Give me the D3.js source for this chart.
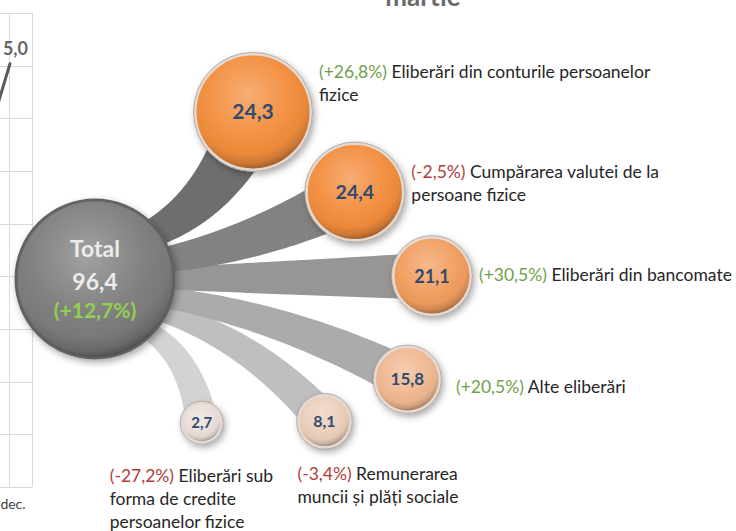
<!DOCTYPE html>
<html>
<head>
<meta charset="utf-8">
<script src="https://cdn.jsdelivr.net/npm/d3@7"></script>
<style>
  body { margin: 0; background: #fff; }
  svg { display: block; font-family: Lato, "Noto Sans", sans-serif; }
</style>
</head>
<body>
<div id="chart"></div>
<script>
// structure of cash outflows (bln lei) and change vs previous year, %
const labelLines = [
  ["Eliberări din conturile persoanelor", "fizice"],
  ["Cumpărarea valutei de la", "persoane fizice"],
  ["Eliberări din bancomate"],
  ["Alte eliberări"],
  ["Remunerarea", "muncii și plăți sociale"],
  ["Eliberări sub", "forma de credite", "persoanelor fizice"]
];
const categories = labelLines.map(l => l.join(" "));
const values = [24.3, 24.4, 21.1, 15.8, 8.1, 2.7];
const changes = [26.8, -2.5, 30.5, 20.5, -3.4, -27.2];
const totalValue = 96.4;
const totalChange = 12.7;

// cut-off piece of the neighbouring chart (left edge)
const prevMonths = ["nov.", "dec."];
const prevValues = [3.1, 5.0];

const width = 736, height = 531;
const fmt = v => d3.format(".1f")(v).replace(".", ",").replace("−", "-");
const fmtPct = v => "(" + (v > 0 ? "+" : "") + fmt(v) + "%)";

let svg = d3.select("#chart")
  .append("svg")
  .attr("width", width)
  .attr("height", height);

let defs = svg.append("defs");

let shadow = defs.append("filter").attr("id", "shadow")
  .attr("x", "-30%").attr("y", "-30%").attr("width", "170%").attr("height", "170%");
shadow.append("feDropShadow")
  .attr("dx", 2).attr("dy", 3).attr("stdDeviation", 3.5)
  .attr("flood-color", "#000").attr("flood-opacity", 0.35);

let gloss = defs.append("radialGradient").attr("id", "gloss")
  .attr("cx", "45%").attr("cy", "35%").attr("r", "65%");
[[0, "#fff", 0.28], [0.55, "#fff", 0.04], [0.8, "#000", 0.03], [0.93, "#000", 0.16], [1, "#000", 0.32]]
  .forEach(s => gloss.append("stop").attr("offset", s[0]).attr("stop-color", s[1]).attr("stop-opacity", s[2]));

// ---- left fragment: grid + last point of another chart
let fx = d3.scalePoint().domain(prevMonths).range([-20, 10]);
let fy = d3.scaleLinear().domain([-3, 6]).range([487, 13]);

let frag = svg.append("g");
frag.selectAll(".hgrid")
  .data(fy.ticks(9))
  .enter().append("line")
  .attr("x1", -5).attr("x2", 32)
  .attr("y1", d => Math.round(fy(d)) + 0.5).attr("y2", d => Math.round(fy(d)) + 0.5)
  .attr("stroke", "#d9d9d9");
frag.selectAll(".vgrid")
  .data([fx("dec.") - 1, 32])
  .enter().append("line")
  .attr("x1", d => d + 0.5).attr("x2", d => d + 0.5)
  .attr("y1", fy(6)).attr("y2", fy(-3))
  .attr("stroke", "#d9d9d9");
frag.append("path")
  .datum(prevValues)
  .attr("fill", "none")
  .attr("stroke", "#5a5a5a")
  .attr("stroke-width", 3)
  .attr("stroke-linecap", "round")
  .attr("d", d3.line().x((d, i) => fx(prevMonths[i])).y(d => fy(d) - 2));
frag.append("text")
  .attr("x", fx("dec.") + 18).attr("y", fy(5) - 11)
  .attr("text-anchor", "end")
  .attr("font-weight", "bold").attr("font-size", 18)
  .attr("fill", "#666")
  .text(fmt(prevValues[1]));
frag.append("text")
  .attr("x", fx("dec.") + 3).attr("y", 509)
  .attr("text-anchor", "middle")
  .attr("font-size", 14).attr("fill", "#404040")
  .text("dec.");

// cut title
svg.append("text")
  .attr("x", 423).attr("y", 6)
  .attr("text-anchor", "middle")
  .attr("font-weight", "bold").attr("font-size", 26)
  .attr("fill", "#6a6a6a")
  .text("martie");

// ---- fan layout
const hub = {x: 95, y: 279, r: 79};
let angle = d3.scaleOrdinal().domain(categories).range([-46.6, -18.5, -0.5, 17.8, 31.8, 53.4]);
let reach = d3.scaleOrdinal().domain(categories).range([230, 274, 337, 328, 270, 179]);
let size = d3.scaleLinear().domain([0, 2, 5]).range([58, 39, 20]);
let fill = d3.scaleLinear().domain([2.7, 15.8, 24.4]).range(["#e9dfda", "#f0b892", "#f38d3d"]);
let stemColor = d3.scaleLinear().domain([0, 5]).range(["#6e6e6e", "#d3d3d3"]);

let nodes = categories.map((c, i) => {
  let a = angle(c) * Math.PI / 180;
  return {
    name: c, i: i, value: values[i], change: changes[i], lines: labelLines[i],
    a: a, r: size(i),
    x: hub.x + reach(c) * Math.cos(a),
    y: hub.y + reach(c) * Math.sin(a)
  };
});

function stemPath(d) {
  let s = d.a * 0.88;
  let p0 = [hub.x + hub.r * 0.8 * Math.cos(s), hub.y + hub.r * 0.8 * Math.sin(s)];
  let b = [d.x, d.y];
  let L = Math.hypot(b[0] - p0[0], b[1] - p0[1]);
  let phi = s * 0.55;
  let q = [p0[0] + 0.5 * L * Math.cos(phi), p0[1] + 0.5 * L * Math.sin(phi)];
  let w0 = 0.12 * d.r + 6, w1 = 0.4 * d.r + 8;
  let left = [], right = [];
  for (let k = 0; k <= 40; k++) {
    let t = k / 40, u = 1 - t;
    let px = u * u * p0[0] + 2 * u * t * q[0] + t * t * b[0];
    let py = u * u * p0[1] + 2 * u * t * q[1] + t * t * b[1];
    let tx = 2 * u * (q[0] - p0[0]) + 2 * t * (b[0] - q[0]);
    let ty = 2 * u * (q[1] - p0[1]) + 2 * t * (b[1] - q[1]);
    let n = Math.hypot(tx, ty);
    let w = w0 + (w1 - w0) * t;
    left.push([px - ty / n * w, py + tx / n * w]);
    right.push([px + ty / n * w, py - tx / n * w]);
  }
  return d3.line()(left.concat(right.reverse())) + "Z";
}

svg.selectAll(".stem")
  .data(nodes.slice().reverse())
  .enter().append("path")
  .attr("class", "stem")
  .attr("d", stemPath)
  .attr("fill", d => stemColor(d.i));

// hub
let hubG = svg.append("g");
hubG.append("circle")
  .attr("cx", hub.x).attr("cy", hub.y).attr("r", hub.r)
  .attr("fill", "#7d7d7d")
  .attr("stroke", "#626262").attr("stroke-width", 3)
  .attr("filter", "url(#shadow)");
hubG.append("circle")
  .attr("cx", hub.x).attr("cy", hub.y).attr("r", hub.r - 1)
  .attr("fill", "url(#gloss)");
hubG.append("text")
  .attr("x", hub.x).attr("y", 257)
  .attr("text-anchor", "middle")
  .attr("font-weight", "bold").attr("font-size", 23)
  .attr("fill", "#ececec")
  .text("Total");
hubG.append("text")
  .attr("x", hub.x).attr("y", 290)
  .attr("text-anchor", "middle")
  .attr("font-weight", "bold").attr("font-size", 23)
  .attr("fill", "#ececec")
  .text(fmt(totalValue));
hubG.append("text")
  .attr("x", hub.x).attr("y", 318)
  .attr("text-anchor", "middle")
  .attr("font-weight", "bold").attr("font-size", 21)
  .attr("fill", "#92d050")
  .text(fmtPct(totalChange));

// bubbles
let bubble = svg.selectAll(".bubble")
  .data(nodes)
  .enter().append("g")
  .attr("class", "bubble")
  .attr("transform", d => "translate(" + d.x + "," + d.y + ")");

bubble.append("circle")
  .attr("r", d => d.r)
  .attr("fill", d => fill(d.value))
  .attr("stroke", "#e4dad2").attr("stroke-width", 3)
  .attr("filter", "url(#shadow)");
bubble.append("circle")
  .attr("r", d => d.r + 1.5)
  .attr("fill", "none")
  .attr("stroke", "#a8a09a").attr("stroke-width", 0.8);
bubble.append("circle")
  .attr("r", d => d.r - 1.5)
  .attr("fill", "url(#gloss)");
bubble.append("text")
  .attr("text-anchor", "middle")
  .attr("dy", "0.36em")
  .attr("font-weight", "bold")
  .attr("font-size", d => d3.scaleLinear().domain([20, 58]).range([15, 21])(d.r))
  .attr("fill", "#2f4a6e")
  .text(d => fmt(d.value));

// labels: right of bubble for the upper ones, below for the last two
let labelAt = d3.scaleOrdinal().domain(categories)
  .range([[8, -34], [8, -14], [8, 5], [16, 14], [-27, 480], [-92, 482]]);
const lineH = 23;

let label = svg.selectAll(".label")
  .data(nodes)
  .enter().append("text")
  .attr("class", "label")
  .attr("font-size", 17.5)
  .attr("fill", "#262626")
  .attr("transform", d => {
    let o = labelAt(d.name);
    return d.i < 4
      ? "translate(" + (d.x + d.r + o[0]) + "," + (d.y + o[1]) + ")"
      : "translate(" + (d.x + o[0]) + "," + o[1] + ")";
  });

label.each(function(d) {
  let t = d3.select(this);
  d.lines.forEach((line, k) => {
    let row = t.append("tspan").attr("x", 0).attr("y", k * lineH);
    if (k === 0) {
      row.append("tspan")
        .attr("fill", d.change > 0 ? "#6f9f4a" : "#b23c36")
        .text(fmtPct(d.change));
      row.append("tspan").text(" " + line);
    } else {
      row.text(line);
    }
  });
});
</script>
</body>
</html>
